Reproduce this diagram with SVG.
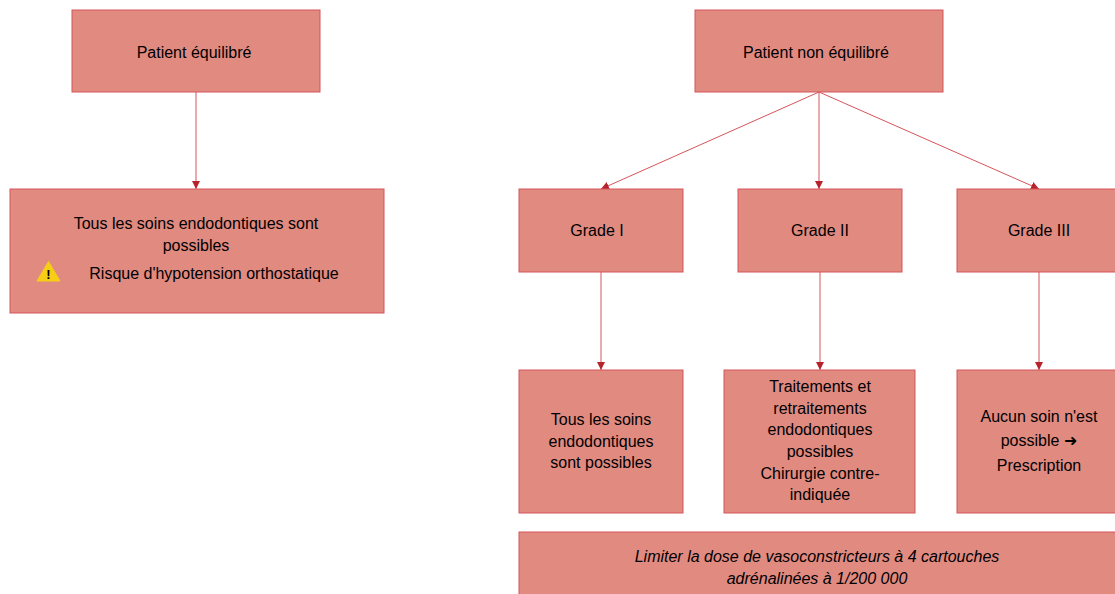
<svg xmlns="http://www.w3.org/2000/svg" width="1115" height="594" viewBox="0 0 1115 594">
<style>
.n{fill:#e08a80;stroke:#d6545a;stroke-width:1}
text{font-family:"Liberation Sans",Arial,sans-serif;font-size:16px;fill:#000;text-anchor:middle}
.i{font-style:italic}
.c{fill:none;stroke:#d6545a;stroke-width:1}
</style>
<defs><marker id="a" markerUnits="userSpaceOnUse" markerWidth="9" markerHeight="8" refX="8" refY="4" orient="auto"><path d="M0 0L8 4L0 8Z" fill="#b8232b"/></marker></defs>
<rect width="1115" height="594" fill="#fff"/>
<g id="connectors">
<path class="c" marker-end="url(#a)" d="M196 92V189"/>
<path class="c" marker-end="url(#a)" d="M819 92L601 189"/>
<path class="c" marker-end="url(#a)" d="M819 92V189"/>
<path class="c" marker-end="url(#a)" d="M819 92L1039 189"/>
<path class="c" marker-end="url(#a)" d="M601 272V370"/>
<path class="c" marker-end="url(#a)" d="M820 272V370"/>
<path class="c" marker-end="url(#a)" d="M1039 272V370"/>
</g>
<g id="n1"><rect class="n" x="72" y="10" width="248" height="82"/><text x="194" y="58">Patient équilibré</text></g>
<g id="n2"><rect class="n" x="10" y="189" width="374" height="124"/>
<text x="196" y="229">Tous les soins endodontiques sont</text><text x="196" y="251">possibles</text>
<path d="M48.500 261.500L60 281H37Z" fill="#f7ce17" stroke="#f7ce17" stroke-width="1" stroke-linejoin="round"/><text x="48.500" y="279" style="font-size:13px;font-weight:bold">!</text>
<text x="214" y="279">Risque d'hypotension orthostatique</text></g>
<g id="n3"><rect class="n" x="695" y="10" width="248" height="82"/><text x="816" y="58">Patient non équilibré</text></g>
<g id="n4"><rect class="n" x="519" y="189" width="164" height="83"/><text x="597" y="236">Grade I</text></g>
<g id="n5"><rect class="n" x="738" y="189" width="164" height="83"/><text x="820" y="236">Grade II</text></g>
<g id="n6"><rect class="n" x="957" y="189" width="164" height="83"/><text x="1039" y="236">Grade III</text></g>
<g id="n7"><rect class="n" x="519" y="370" width="164" height="143"/>
<text x="601" y="425">Tous les soins</text><text x="601" y="447">endodontiques</text><text x="601" y="468">sont possibles</text></g>
<g id="n8"><rect class="n" x="724" y="370" width="191" height="143"/>
<text x="820" y="392">Traitements et</text><text x="820" y="414">retraitements</text><text x="820" y="435">endodontiques</text><text x="820" y="457">possibles</text><text x="820" y="479">Chirurgie contre-</text><text x="820" y="500">indiquée</text></g>
<g id="n9"><rect class="n" x="957" y="370" width="164" height="143"/>
<text x="1039" y="422">Aucun soin n'est</text><text x="1039" y="446"><tspan>possible </tspan><tspan style="font-family:'DejaVu Sans',sans-serif">➜</tspan></text><text x="1039" y="471">Prescription</text></g>
<g id="n10"><rect class="n" x="519" y="532" width="640" height="80"/>
<text class="i" x="817" y="562">Limiter la dose de vasoconstricteurs à 4 cartouches</text><text class="i" x="817" y="584">adrénalinées à 1/200 000</text></g>
</svg>
